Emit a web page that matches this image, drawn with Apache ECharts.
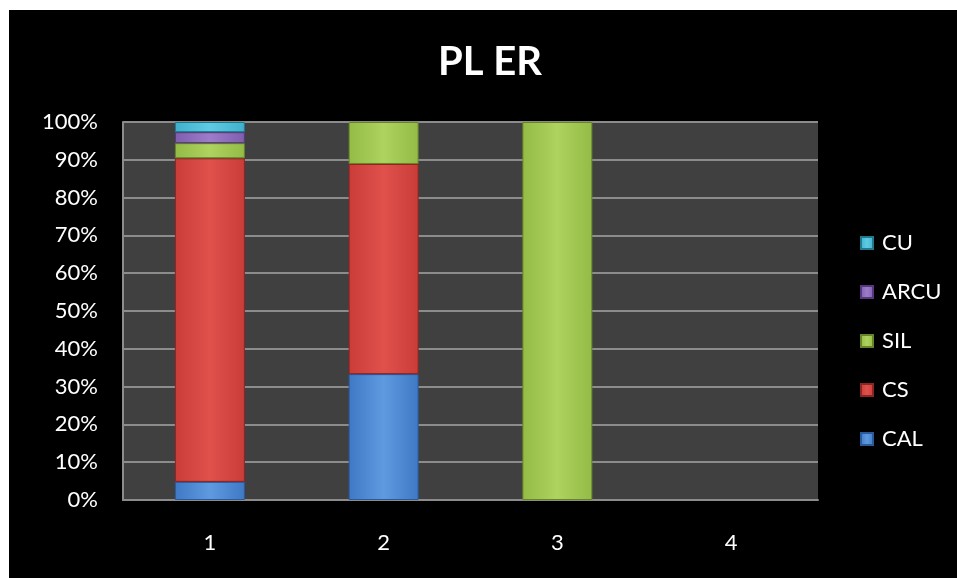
<!DOCTYPE html>
<html>
<head>
<meta charset="utf-8">
<script src="https://cdn.jsdelivr.net/npm/echarts@6/dist/echarts.min.js"></script>
<style>
  html, body { margin: 0; padding: 0; background: #ffffff; }
  #chart { position: absolute; left: 9px; top: 10px; width: 948px; height: 568px; background: #000000; }
</style>
</head>
<body>
<div id="chart"></div>
<script>
const categories = ['1', '2', '3', '4'];
const CAL  = [4.8, 33.3, 0, 0];
const CS   = [85.6, 55.6, 0, 0];
const SIL  = [4.0, 11.1, 100, 0];
const ARCU = [2.9, 0, 0, 0];
const CU   = [2.7, 0, 0, 0];
const seriesNames = ['CAL', 'CS', 'SIL', 'ARCU', 'CU'];
const legendOrder = ['CU', 'ARCU', 'SIL', 'CS', 'CAL'];

const colors = {
  CAL:  ['#5f9ae0', '#3f78c4', '#2a5a9a'],
  CS:   ['#e0514c', '#c93c38', '#8e2522'],
  SIL:  ['#aed35e', '#93bb46', '#66852a'],
  ARCU: ['#9d7cc9', '#7f5eae', '#56387e'],
  CU:   ['#5fcbe3', '#3fb0cc', '#23788e']
};
const dataMap = { CAL, CS, SIL, ARCU, CU };

const chart = echarts.init(document.getElementById('chart'));
const series = seriesNames.map(n => ({
  name: n,
  type: 'bar',
  stack: 'total',
  barWidth: 70,
  data: dataMap[n].map(v => v === 0 ? null : v),
  itemStyle: {
    color: new echarts.graphic.LinearGradient(0, 0, 1, 0, [
      { offset: 0, color: colors[n][1] },
      { offset: 0.5, color: colors[n][0] },
      { offset: 1, color: colors[n][1] }
    ]),
    borderColor: colors[n][2],
    borderWidth: 1
  }
}));

chart.setOption({
  backgroundColor: 'transparent',
  color: seriesNames.map(n => colors[n][1]),
  animation: false,
  graphic: [{
    type: 'text',
    left: 429,
    top: 32,
    style: {
      text: 'PL ER',
      fill: '#ffffff',
      font: 'bold 40px Lato'
    }
  }],
  legend: {
    data: legendOrder,
    orient: 'vertical',
    left: 851,
    top: 222,
    padding: 0,
    itemWidth: 12,
    itemHeight: 12,
    itemGap: 27,
    icon: 'rect',
    textStyle: { color: '#ffffff', fontFamily: 'Lato', fontSize: 22, lineHeight: 22, padding: [0, 0, 0, 4] }
  },
  grid: {
    left: 114, top: 112, width: 695, height: 378,
    show: true, backgroundColor: '#404040', borderWidth: 0
  },
  xAxis: {
    type: 'category',
    data: categories,
    axisLine: { show: true, lineStyle: { color: '#8c8c8c', width: 2 } },
    axisTick: { show: false },
    axisLabel: { color: '#ffffff', fontFamily: 'Lato', fontSize: 22, margin: 32 }
  },
  yAxis: {
    type: 'value',
    min: 0, max: 100, interval: 10,
    axisLine: { show: true, lineStyle: { color: '#8c8c8c', width: 2 } },
    axisTick: { show: false },
    splitLine: { show: true, lineStyle: { color: '#8c8c8c', width: 2 } },
    axisLabel: { color: '#ffffff', fontFamily: 'Lato', fontSize: 22, margin: 25, formatter: '{value}%' }
  },
  series: series
});
</script>
</body>
</html>
